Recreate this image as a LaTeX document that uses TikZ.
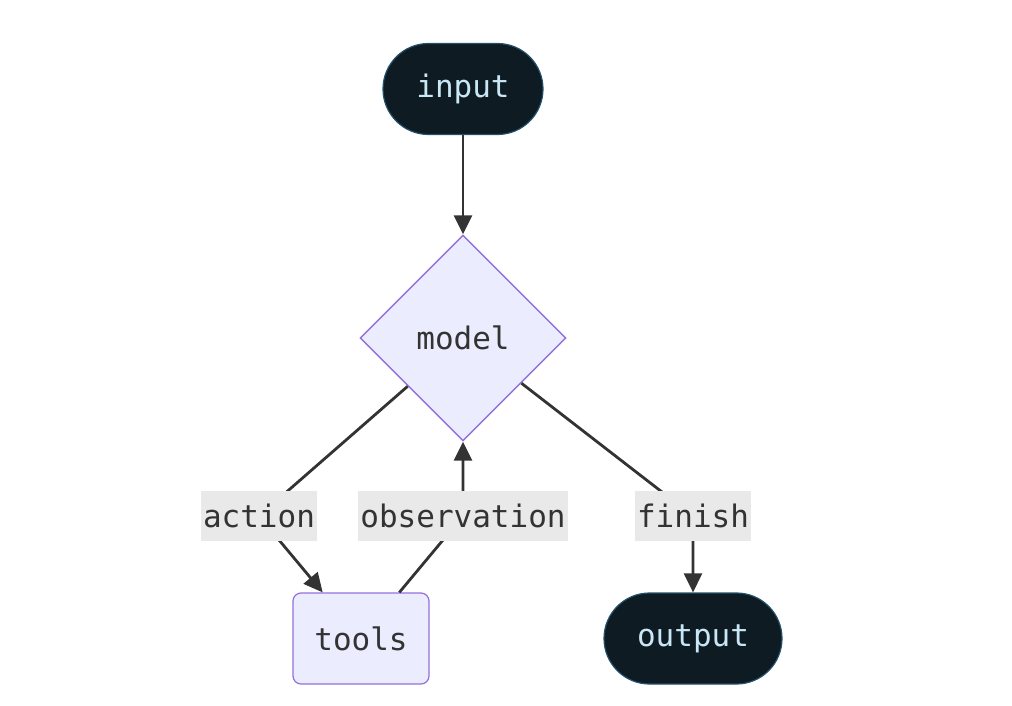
\documentclass[tikz,border=0pt]{standalone}
\usepackage{fontspec}
\setmonofont{DejaVu Sans Mono}
\usetikzlibrary{arrows.meta, shapes.geometric}
\usepackage{xcolor}
\definecolor{termFill}{HTML}{0F1B22}
\definecolor{termDraw}{HTML}{23506D}
\definecolor{termText}{HTML}{C9E7F6}
\definecolor{procFill}{HTML}{ECECFF}
\definecolor{procDraw}{HTML}{9370DB}
\definecolor{edgeColor}{HTML}{333333}
\definecolor{labelFill}{HTML}{E9E9E9}
\tikzset{
    % node style
    every node/.style = {font=\ttfamily\fontsize{31}{37}\selectfont},
    % arrow style
    >={Triangle[width=18pt, length=19pt]},
    % abstract base node style
    base/.style = {
        draw, rectangle, line width=1.2pt,
        minimum height=91pt, inner sep=0pt,
        text centered
    },
    % special node styles (inherited from base style)
    terminal/.style = {base, rounded corners=45.5pt, fill=termFill, draw=termDraw, text=termText},
    process/.style = {base, rounded corners=8pt, fill=procFill, draw=procDraw, text=edgeColor},
    decision/.style = {base, diamond, aspect=1, minimum size=206pt, line width=1.4pt,
        fill=procFill, draw=procDraw, text=edgeColor},
    edgeLabel/.style = {fill=labelFill, text=edgeColor, minimum height=50pt, inner xsep=2pt, inner ysep=0pt},
    % connector style
    flow/.style = {->, draw=edgeColor, line width=2.8pt}
}
\begin{document}
\begin{tikzpicture}[x=1pt, y=-1pt, node distance=249pt]
        \useasboundingbox (0,0) rectangle (1012,706);
        % place blocks of the graph
        \node[terminal, minimum width=160pt] (input) at (463,89) {input};
        \node[decision] (model) [below of=input] {model};
        \node[process, minimum width=136pt] (tools) [below of=model, xshift=-102pt, yshift=-51.5pt] {tools};
        \node[terminal, minimum width=178pt] (output) [below of=model, xshift=230pt, yshift=-51.5pt] {output};
        % points where the labels sit on the edges
        \coordinate (actionMid) at (259,516);
        \coordinate (observationMid) at (463,516);
        \coordinate (finishMid) at (693,516);
        % draw the edges
        \draw[flow] (input) -- (model);
        \draw[flow] (model) -- (actionMid) -- (tools);
        \draw[flow] (tools) -- (observationMid) -- (model);
        \draw[flow] (model) -- (finishMid) -- (output);
        % edge labels
        \node[edgeLabel] (actionLabel) at (actionMid) {action};
        \node[edgeLabel] (observationLabel) at (observationMid) {observation};
        \node[edgeLabel] (finishLabel) at (finishMid) {finish};
    \end{tikzpicture}
\end{document}
